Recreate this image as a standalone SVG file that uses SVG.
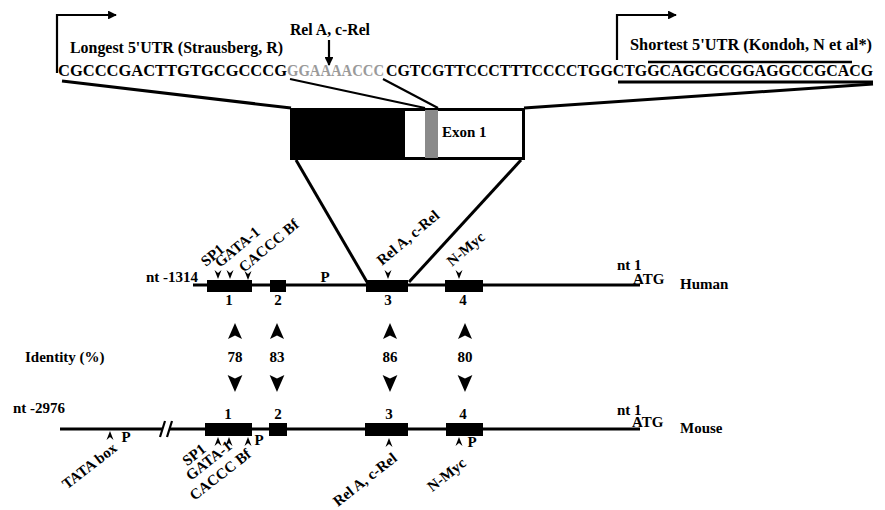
<svg xmlns="http://www.w3.org/2000/svg" width="885" height="510" viewBox="0 0 885 510">
<defs>
<style>
.t{font-family:"Liberation Serif","Times New Roman",serif;font-weight:bold;font-size:15px;fill:#000}
.r{font-size:15px}
.h{font-size:16px}
.seq{font-size:16px}
.ln{stroke:#000;stroke-width:3;fill:none}
.thin{stroke:#000;stroke-width:2.2;fill:none}
.m{fill:#000}
</style>
<marker id="ah" viewBox="0 0 10 10" refX="9" refY="5" markerWidth="4" markerHeight="4" orient="auto"><path d="M0,0 L10,5 L0,10 Z" fill="#000"/></marker>
<path id="dn" d="M-3.5,0 L0,3 L3.5,0 L0,9 Z"/>
<path id="up" d="M-3.5,0 L0,-3 L3.5,0 L0,-9 Z"/>
<path id="bigup" d="M0,-8 L7,8 L0,4.5 L-7,8 Z"/>
<path id="bigdn" d="M0,9 L7.4,-8 L0,-4.5 L-7.4,-8 Z"/>
</defs>
<rect width="885" height="510" fill="#fff"/>

<g id="sequence">
<path class="thin" d="M57,73 V15 H116" marker-end="url(#ah)"/>
<text class="t h" x="70" y="53" textLength="213" lengthAdjust="spacingAndGlyphs">Longest 5'UTR (Strausberg, R)</text>
<text class="t h" x="290" y="35" textLength="80" lengthAdjust="spacingAndGlyphs">Rel A, c-Rel</text>
<path class="thin" d="M329,40 V65" marker-end="url(#ah)"/>
<path class="thin" d="M617,60 V15 H676" marker-end="url(#ah)"/>
<text class="t h" x="630" y="50" textLength="242" lengthAdjust="spacingAndGlyphs">Shortest 5'UTR (Kondoh, N et al*)</text>
<line x1="648" y1="62" x2="852" y2="62" stroke="#000" stroke-width="2.5"/>
<text class="t seq" x="58" y="76" textLength="229" lengthAdjust="spacingAndGlyphs">CGCCCGACTTGTGCGCCCG</text>
<text class="t seq" x="287" y="76" textLength="97" lengthAdjust="spacingAndGlyphs" style="fill:#9a9a9a">GGAAAACCC</text>
<text class="t seq" x="386" y="76" textLength="487" lengthAdjust="spacingAndGlyphs">CGTCGTTCCCTTTCCCCTGGCTGGCAGCGCGGAGGCCGCACG</text>
<line x1="618" y1="82" x2="873" y2="82" stroke="#000" stroke-width="3"/>
</g>

<g id="exon1">
<rect x="291.5" y="109.5" width="232" height="49" fill="#fff" stroke="#000" stroke-width="3"/>
<rect x="290" y="108" width="115" height="52" fill="#000"/>
<rect x="425" y="110" width="13" height="48" fill="#8a8a8a"/>
<text class="t" x="442" y="137">Exon 1</text>
</g>

<g id="connectors">
<line class="ln" x1="62" y1="81" x2="291" y2="108"/>
<line class="ln" x1="873" y1="84" x2="524" y2="108"/>
<line class="thin" x1="290" y1="79" x2="425" y2="108"/>
<line class="thin" x1="383" y1="79" x2="438" y2="108"/>
<line class="ln" x1="296" y1="160" x2="367" y2="282"/>
<line class="ln" x1="521" y1="160" x2="409" y2="282"/>
</g>

<g id="human">
<text class="t" x="146" y="282">nt -1314</text>
<line class="ln" x1="193" y1="285" x2="640" y2="285"/>
<rect x="207" y="280" width="45" height="12" class="m"/>
<rect x="270" y="280" width="16" height="12" class="m"/>
<rect x="366" y="280" width="42" height="12" class="m"/>
<rect x="445" y="280" width="38" height="12" class="m"/>
<use href="#dn" x="218" y="270"/>
<use href="#dn" x="230" y="270"/>
<use href="#dn" x="248" y="271"/>
<use href="#dn" x="388" y="270"/>
<use href="#dn" x="459" y="270"/>
<text class="t r" transform="translate(206,267) rotate(-40)">SP1</text>
<text class="t r" transform="translate(220,268) rotate(-40)">GATA-1</text>
<text class="t r" transform="translate(244,273) rotate(-40)">CACCC Bf</text>
<text class="t r" transform="translate(382,266) rotate(-40)">Rel A, c-Rel</text>
<text class="t r" transform="translate(452,267) rotate(-40)">N-Myc</text>
<text class="t r" x="325" y="282" text-anchor="middle">P</text>
<text class="t" x="617" y="270">nt 1</text>
<text class="t" x="633" y="284">ATG</text>
<text class="t" x="680" y="289">Human</text>
<text class="t" x="229" y="305" text-anchor="middle">1</text>
<text class="t" x="278" y="305" text-anchor="middle">2</text>
<text class="t" x="388" y="305" text-anchor="middle">3</text>
<text class="t" x="463" y="305" text-anchor="middle">4</text>
</g>

<g id="identity">
<text class="t" x="25" y="362">Identity (%)</text>
<use href="#bigup" x="235" y="331"/>
<use href="#bigup" x="277" y="331"/>
<use href="#bigup" x="390" y="331"/>
<use href="#bigup" x="465" y="331"/>
<text class="t" x="235" y="362" text-anchor="middle">78</text>
<text class="t" x="277" y="362" text-anchor="middle">83</text>
<text class="t" x="390" y="362" text-anchor="middle">86</text>
<text class="t" x="465" y="362" text-anchor="middle">80</text>
<use href="#bigdn" x="235" y="383"/>
<use href="#bigdn" x="277" y="383"/>
<use href="#bigdn" x="390" y="383"/>
<use href="#bigdn" x="465" y="383"/>
</g>

<g id="mouse">
<text class="t" x="13" y="413">nt -2976</text>
<line class="ln" x1="60" y1="429" x2="163" y2="429"/>
<line class="ln" x1="170" y1="429" x2="640" y2="429"/>
<line class="thin" x1="160" y1="437" x2="165" y2="421"/>
<line class="thin" x1="167" y1="437" x2="172" y2="421"/>
<rect x="205" y="423" width="47" height="13" class="m"/>
<rect x="269" y="423" width="18" height="13" class="m"/>
<rect x="365" y="423" width="43" height="13" class="m"/>
<rect x="446" y="423" width="37" height="13" class="m"/>
<text class="t" x="228" y="419" text-anchor="middle">1</text>
<text class="t" x="278" y="419" text-anchor="middle">2</text>
<text class="t" x="389" y="419" text-anchor="middle">3</text>
<text class="t" x="463" y="419" text-anchor="middle">4</text>
<use href="#up" x="110" y="440"/>
<use href="#up" x="218" y="446"/>
<use href="#up" x="229" y="446"/>
<use href="#up" x="248" y="446"/>
<use href="#up" x="389" y="447"/>
<use href="#up" x="459" y="446"/>
<text class="t r" x="126" y="442" text-anchor="middle">P</text>
<text class="t r" x="259" y="445" text-anchor="middle">P</text>
<text class="t r" x="472" y="447" text-anchor="middle">P</text>
<text class="t r" text-anchor="end" transform="translate(118,450) rotate(-38)">TATA box</text>
<text class="t r" text-anchor="end" transform="translate(207,451) rotate(-38)">SP1</text>
<text class="t r" text-anchor="end" transform="translate(233,448) rotate(-38)">GATA-1</text>
<text class="t r" text-anchor="end" transform="translate(252,456) rotate(-38)">CACCC Bf</text>
<text class="t r" text-anchor="end" transform="translate(398,460) rotate(-38)">Rel A, c-Rel</text>
<text class="t r" text-anchor="end" transform="translate(467,465) rotate(-38)">N-Myc</text>
<text class="t" x="617" y="415">nt 1</text>
<text class="t" x="632" y="427">ATG</text>
<text class="t" x="680" y="433">Mouse</text>
</g>
</svg>
